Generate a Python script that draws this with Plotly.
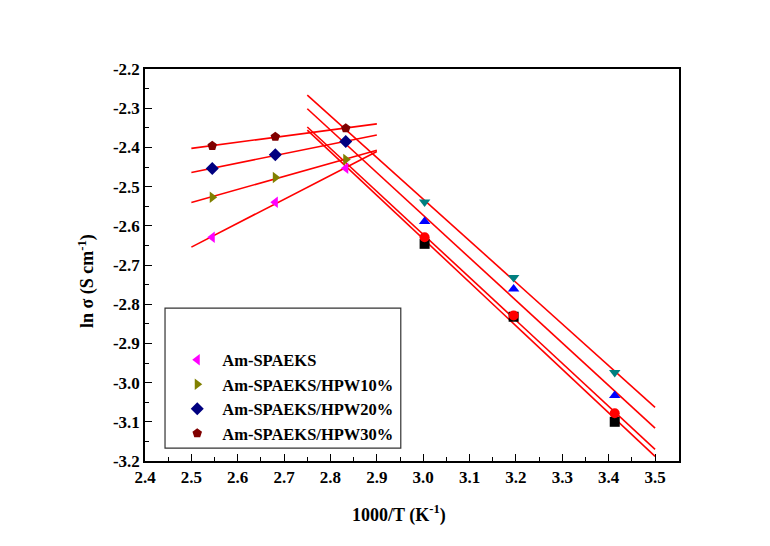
import numpy as np
import plotly.graph_objects as go

# 1000/T values (K^-1)
x_low = [2.545, 2.681, 2.833]
x_high = [3.003, 3.195, 3.413]

# ln(sigma) values, low 1000/T region (legend series)
am_spaeks = [-2.629, -2.540, -2.453]
hpw10 = [-2.527, -2.477, -2.431]
hpw20 = [-2.454, -2.419, -2.385]
hpw30 = [-2.396, -2.373, -2.351]

# ln(sigma) values, high 1000/T region
hi_black = [-2.646, -2.832, -3.100]
hi_red = [-2.629, -2.829, -3.078]
hi_blue = [-2.589, -2.761, -3.033]
hi_teal = [-2.539, -2.732, -2.974]

low_fit_range = [2.5, 2.9]
high_fit_range = [2.75, 3.5]

x_ticks = [2.4, 2.5, 2.6, 2.7, 2.8, 2.9, 3.0, 3.1, 3.2, 3.3, 3.4, 3.5]
y_ticks = [-3.2, -3.1, -3.0, -2.9, -2.8, -2.7, -2.6, -2.5, -2.4, -2.3, -2.2]

FONT = "Liberation Serif, Times New Roman, serif"

low_series = [
    ("Am-SPAEKS", am_spaeks, "#FF00FF", "triangle-left"),
    ("Am-SPAEKS/HPW10%", hpw10, "#808000", "triangle-right"),
    ("Am-SPAEKS/HPW20%", hpw20, "#000080", "diamond"),
    ("Am-SPAEKS/HPW30%", hpw30, "#800000", "pentagon"),
]
high_series = [
    ("black", hi_black, "#000000", "square"),
    ("red", hi_red, "#FF0000", "circle"),
    ("blue", hi_blue, "#0000FF", "triangle-up"),
    ("teal", hi_teal, "#008080", "triangle-down"),
]

fig = go.Figure()

# linear fits (Arrhenius lines)
for _, ys, _, _ in low_series:
    k, b = np.polyfit(x_low, ys, 1)
    xs = np.array(low_fit_range)
    fig.add_trace(go.Scatter(x=xs, y=k * xs + b, mode="lines",
                             line=dict(color="#FF0000", width=1.6),
                             showlegend=False, hoverinfo="skip"))
for _, ys, _, _ in high_series:
    k, b = np.polyfit(x_high, ys, 1)
    xs = np.array(high_fit_range)
    fig.add_trace(go.Scatter(x=xs, y=k * xs + b, mode="lines",
                             line=dict(color="#FF0000", width=1.6),
                             showlegend=False, hoverinfo="skip"))

for name, ys, color, sym in high_series:
    fig.add_trace(go.Scatter(x=x_high, y=ys, mode="markers", name=name,
                             marker=dict(color=color, symbol=sym, size=10),
                             showlegend=False))

for name, ys, color, sym in low_series:
    fig.add_trace(go.Scatter(x=x_low, y=ys, mode="markers", name=name,
                             marker=dict(color=color, symbol=sym, size=10)))

axis_common = dict(
    showline=True, linecolor="black", linewidth=1.5, mirror=True,
    ticks="inside", ticklen=7, tickwidth=1.3, tickcolor="black",
    showgrid=False, zeroline=False,
    tickfont=dict(family=FONT, size=17, color="black", weight="bold"),
)

fig.update_xaxes(range=[2.4, 3.5516], tickvals=x_ticks,
                 ticktext=[f"<b>{v:.1f}</b>" for v in x_ticks],
                 minor=dict(ticks="inside", ticklen=4, tickwidth=1.2,
                            tickcolor="black", dtick=0.05, tick0=2.4),
                 **axis_common)
fig.update_yaxes(range=[-3.2, -2.2], tickvals=y_ticks,
                 ticktext=[f"<b>{v:.1f}</b>" for v in y_ticks],
                 minor=dict(ticks="inside", ticklen=4, tickwidth=1.2,
                            tickcolor="black", dtick=0.05, tick0=-3.2),
                 **axis_common)

title_font = dict(family=FONT, size=18, color="black")
fig.add_annotation(text="<b>1000/T (K<sup>-1</sup>)</b>", xref="paper", yref="paper",
                   x=0.4757, y=-0.135, xanchor="center", yanchor="middle",
                   showarrow=False, font=title_font)
fig.add_annotation(text="<b>ln σ (S cm<sup>-1</sup>)</b>", xref="paper", yref="paper",
                   x=-0.1086, y=0.459, xanchor="center", yanchor="middle",
                   textangle=-90, showarrow=False, font=title_font)

# legend frame
fig.add_shape(type="rect", xref="paper", yref="paper",
              x0=0.0375, x1=0.479, y0=0.033, y1=0.390,
              line=dict(color="#333333", width=1.2), fillcolor="white", layer="below")

fig.update_layout(
    width=770, height=546,
    margin=dict(l=145, r=91, t=69, b=85),
    paper_bgcolor="white", plot_bgcolor="white",
    legend=dict(x=0.051, y=0.302, xanchor="left", yanchor="top",
                bgcolor="rgba(0,0,0,0)", borderwidth=0,
                itemwidth=40, tracegroupgap=0,
                font=dict(family=FONT, size=16.5, color="black", weight="bold")),
)

fig.write_html("out.html")
